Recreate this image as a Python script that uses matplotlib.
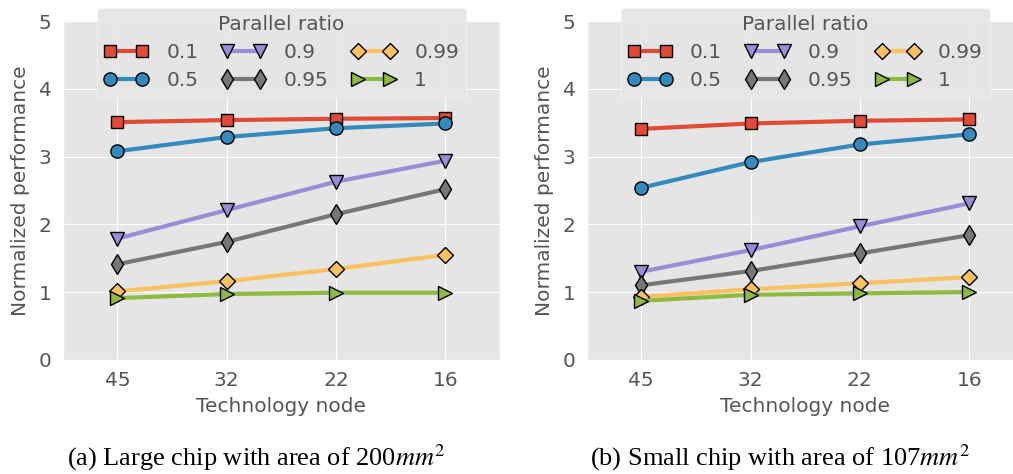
import matplotlib
matplotlib.use("Agg")
import matplotlib.pyplot as plt

plt.style.use("ggplot")
plt.rcParams["mathtext.fontset"] = "stix"

nodes = ["45", "32", "22", "16"]
ratios = ["0.1", "0.5", "0.9", "0.95", "0.99", "1"]

# normalized performance per parallel ratio, large chip (200 mm^2)
large = {
    "0.1": [3.51, 3.54, 3.56, 3.57],
    "0.5": [3.08, 3.29, 3.42, 3.49],
    "0.9": [1.79, 2.21, 2.63, 2.94],
    "0.95": [1.41, 1.74, 2.15, 2.52],
    "0.99": [1.01, 1.16, 1.34, 1.55],
    "1": [0.91, 0.97, 0.99, 0.99],
}
# small chip (107 mm^2)
small = {
    "0.1": [3.41, 3.49, 3.53, 3.55],
    "0.5": [2.54, 2.92, 3.18, 3.33],
    "0.9": [1.30, 1.62, 1.97, 2.31],
    "0.95": [1.10, 1.31, 1.57, 1.84],
    "0.99": [0.93, 1.04, 1.13, 1.22],
    "1": [0.87, 0.96, 0.98, 1.00],
}

colors = ["#E24A33", "#348ABD", "#988ED5", "#777777", "#FBC15E", "#8EBA42"]
markers = ["s", "o", "v", "d", "D", ">"]
msizes = [9, 9.5, 9.5, 10.5, 8.5, 9.5]

captions = [r"(a) Large chip with area of 200$mm^2$",
            r"(b) Small chip with area of 107$mm^2$"]

fs = 14.5
fig = plt.figure(figsize=(10.13, 4.74), dpi=100)
ax_l = fig.add_axes([0.0619, 0.2411, 0.4317, 0.714])
ax_r = fig.add_axes([0.579, 0.2411, 0.4317, 0.714])

x = list(range(len(nodes)))
for ax, data, cx, cap in [(ax_l, large, 256, captions[0]),
                          (ax_r, small, 780, captions[1])]:
    for r, c, m, ms in zip(ratios, colors, markers, msizes):
        ax.plot(x, data[r], color=c, lw=3, marker=m, markersize=ms,
                markeredgecolor="black", markeredgewidth=1, label=r)
    ax.set_xlim(-0.5, 3.5)
    ax.set_ylim(0, 5)
    ax.set_xticks(x)
    ax.set_xticklabels(nodes)
    ax.set_yticks([0, 1, 2, 3, 4, 5])
    ax.tick_params(labelsize=fs, length=0, pad=8, colors="#555555")
    ax.set_xlabel("Technology node", fontsize=fs, color="#555555", labelpad=5)
    ax.set_ylabel("Normalized performance", fontsize=fs, color="#555555",
                  labelpad=6)
    leg = ax.legend(title="Parallel ratio", ncol=3, numpoints=2,
                    loc="upper center", bbox_to_anchor=(0.5, 1.04),
                    borderaxespad=0, fontsize=fs, title_fontsize=fs,
                    handlelength=2.2, columnspacing=1.15, handletextpad=0.9,
                    borderpad=0.35, labelspacing=0.45, fancybox=True,
                    framealpha=0.9, facecolor="#E5E5E5", edgecolor="#F5F5F5")
    leg.get_title().set_color("#555555")
    for t in leg.get_texts():
        t.set_color("#555555")
    fig.text(cx / 1013, 1 - 458 / 474, cap, ha="center", va="center",
             family="Liberation Serif", fontsize=19)

fig.savefig("out.png", dpi=100)
